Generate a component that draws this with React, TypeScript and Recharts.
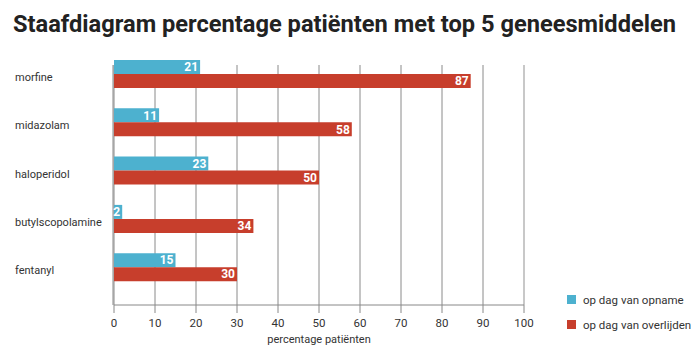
import React from 'react';
import { BarChart, Bar, XAxis, YAxis, CartesianGrid, ReferenceLine, LabelList, Legend, Label } from 'recharts';

const categories = ['morfine', 'midazolam', 'haloperidol', 'butylscopolamine', 'fentanyl'];
const opname = [21, 11, 23, 2, 15];
const overlijden = [87, 58, 50, 34, 30];
const xTicks = [0, 10, 20, 30, 40, 50, 60, 70, 80, 90, 100];
const frameTicks = [0, 1, 2, 3, 4, 5];
const seriesNames = ['op dag van opname', 'op dag van overlijden'];
const titleText = 'Staafdiagram percentage patiënten met top 5 geneesmiddelen';
const xLabel = 'percentage patiënten';

const data = categories.map((c, i) => ({ name: c, opname: opname[i], overlijden: overlijden[i] }));

const FONT = 'Roboto, sans-serif';
const BLUE = '#4db1cf';
const RED = '#c73e2c';

const CategoryTick = (props: any) => {
  const { y, payload } = props;
  return (
    <text x={15} y={y} dy={7} fontSize={11} fill="#333" fontFamily={FONT}>
      {payload.value}
    </text>
  );
};

const LegendContent = (props: any) => {
  const { payload } = props;
  return (
    <div style={{ fontFamily: FONT, fontSize: 11.5, color: '#333' }}>
      {(payload || []).map((p: any, i: number) => (
        <div key={i} style={{ display: 'flex', alignItems: 'center', height: 25 }}>
          <span style={{ display: 'inline-block', width: 9, height: 9, background: p.color, marginRight: 7 }} />
          <span>{p.value}</span>
        </div>
      ))}
    </div>
  );
};

export default function App() {
  return (
    <div style={{ position: 'absolute', left: 0, top: 0, width: 700, height: 357, background: '#fff' }}>
      <svg width={700} height={45} style={{ position: 'absolute', left: 0, top: 0 }}>
        <text
          x={13}
          y={32}
          fontFamily="Roboto, sans-serif"
          fontWeight="bold"
          fontSize={23}
          fill="#222"
          textLength={663}
          lengthAdjust="spacingAndGlyphs"
        >
          {titleText}
        </text>
      </svg>
      <BarChart
        width={700}
        height={357}
        data={data}
        layout="vertical"
        margin={{ top: 65, right: 176, bottom: 0, left: 0 }}
        barGap={0}
        style={{ position: 'absolute', left: 0, top: 0 }}
      >
        <CartesianGrid horizontal={false} stroke="#8a8a8a" />
        <XAxis
          type="number"
          domain={[0, 100]}
          ticks={xTicks}
          interval={0}
          height={52}
          tickSize={8}
          tickMargin={6}
          axisLine={{ stroke: '#888' }}
          tickLine={{ stroke: '#888' }}
          tick={{ fill: '#333', fontSize: 11.5, fontFamily: FONT }}
        >
          <Label value={xLabel} position="insideBottom" offset={14} style={{ fill: '#333', fontSize: 11, fontFamily: FONT }} />
        </XAxis>
        <YAxis
          type="category"
          dataKey="name"
          width={1}
          axisLine={false}
          tickLine={false}
          tick={(p: any) => <CategoryTick {...p} />}
          interval={0}
          padding={{ top: -15, bottom: 13.5 }}
        />
        <YAxis
          yAxisId="frame"
          type="number"
          domain={[0, 5]}
          ticks={frameTicks}
          width={113}
          tick={false}
          tickSize={7}
          axisLine={{ stroke: '#888' }}
          tickLine={{ stroke: '#888' }}
        />
        <ReferenceLine yAxisId="frame" y={5} stroke="#c8c8c8" strokeWidth={2} />
        <ReferenceLine yAxisId="frame" x={100} stroke="#c8c8c8" strokeWidth={2} />
        <Bar dataKey="opname" name={seriesNames[0]} fill={BLUE} barSize={14} isAnimationActive={false}>
          <LabelList dataKey="opname" position="insideRight" offset={2} fill="#fff" fontSize={12} fontWeight="bold" fontFamily={FONT} />
        </Bar>
        <Bar dataKey="overlijden" name={seriesNames[1]} fill={RED} barSize={14} isAnimationActive={false}>
          <LabelList dataKey="overlijden" position="insideRight" offset={2} fill="#fff" fontSize={12} fontWeight="bold" fontFamily={FONT} />
        </Bar>
        <Legend
          layout="vertical"
          align="center"
          verticalAlign="middle"
          content={<LegendContent />}
          wrapperStyle={{ left: 567, top: 287, width: 130 }}
        />
      </BarChart>
    </div>
  );
}
